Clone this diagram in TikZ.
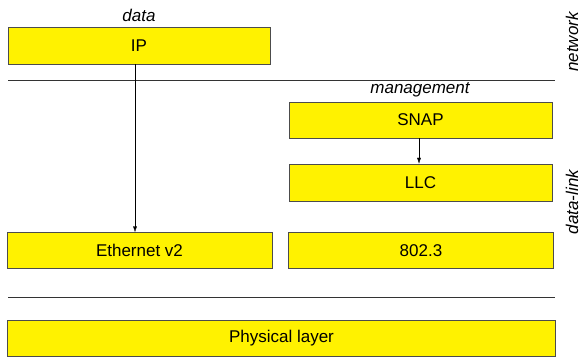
\documentclass[tikz,border=0pt]{standalone}
\usepackage{fontspec}
\setmainfont{Liberation Sans}
\usepackage{xcolor}
\usetikzlibrary{arrows.meta}

\begin{document}
\begin{tikzpicture}[x=1pt,y=1pt,
    layer/.style={draw=black!70,fill=yellow,inner sep=0pt,minimum height=36pt,font=\fontsize{17}{19}\selectfont},
    tag/.style={font=\fontsize{17}{19}\selectfont\itshape,inner sep=0pt},
    sep/.style={draw=black!80,line width=0.9pt}]
    \useasboundingbox (0,0) rectangle (583,-358);
    \node[tag,anchor=base] (datatag) at (139,-22) {data};
    \node[layer,minimum width=262pt,minimum height=37pt] (ip) at (139,-45.5) {IP};
    \coordinate (s1a) at (8,-80);
    \coordinate (s1b) at (555,-80);
    \draw[sep] (s1a) -- (s1b);
    \node[tag,anchor=base] (mgmttag) at (420,-94) {management};
    \node[layer,minimum width=263pt] (snap) at (420.5,-120) {SNAP};
    \node[layer,minimum width=263pt,minimum height=37pt] (llc) at (420.5,-182.5) {LLC};
    \node[layer,minimum width=265pt] (eth) at (139.5,-250.5) {Ethernet v2};
    \node[layer,minimum width=265pt] (dot3) at (421,-250.5) {802.3};
    \coordinate (s2a) at (8,-297);
    \coordinate (s2b) at (555,-297);
    \draw[sep] (s2a) -- (s2b);
    \node[layer,minimum width=548pt] (phy) at (281.5,-338) {Physical layer};
    \node[tag,rotate=90,anchor=base] (nettag) at (578,-42) {network};
    \node[tag,rotate=90,anchor=base] (linktag) at (578,-202) {data-link};
    \draw[-{Latex[length=6pt,width=4pt]}] ([xshift=-4pt]ip.south) -- ([xshift=-4.5pt]eth.north);
    \draw[-{Latex[length=6pt,width=4pt]}] ([xshift=-1.5pt]snap.south) -- ([xshift=-1.5pt]llc.north);
\end{tikzpicture}
\end{document}
